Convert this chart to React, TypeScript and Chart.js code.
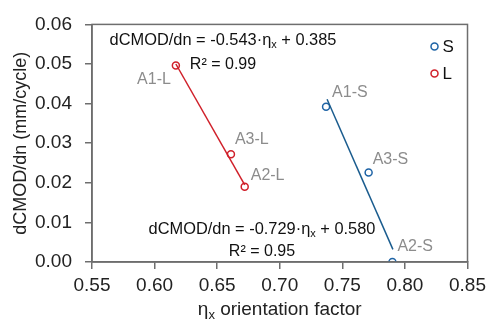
import React, { useEffect, useRef } from "react";
import { Chart, registerables } from "chart.js";

Chart.register(...registerables);

// ---- data ----
const seriesNames = ["S", "L"];
const sX = [0.737, 0.771, 0.790];
const sY = [0.0392, 0.0226, 0.0];
const sLabels = ["A1-S", "A3-S", "A2-S"];
const lX = [0.617, 0.661, 0.672];
const lY = [0.0496, 0.0272, 0.019];
const lLabels = ["A1-L", "A3-L", "A2-L"];
// fitted trend lines (end points)
const sTrendX = [0.7378, 0.7904];
const sTrendY = [0.0411, 0.0032];
const lTrendX = [0.617, 0.672];
const lTrendY = [0.05, 0.0195];
// equations
const lEq = ["dCMOD/dn = -0.543·η", "x", " + 0.385"];
const lR2 = "0.99";
const sEq = ["dCMOD/dn = -0.729·η", "x", " + 0.580"];
const sR2 = "0.95";
const xTicks = [0.55, 0.6, 0.65, 0.7, 0.75, 0.8, 0.85];
const yTicks = [0, 0.01, 0.02, 0.03, 0.04, 0.05, 0.06];

const RED = "#D0202A";
const BLUE = "#1F64A6";
const RED_LINE = "#D0202A";
const BLUE_LINE = "#1A5C8E";
const GRAY = "#8C8C8C";
const AXIS = "#6E6E6E";
const FONT = "'Liberation Sans', Arial, sans-serif";

function pts(xs: number[], ys: number[]) {
  return xs.map((x, i) => ({ x, y: ys[i] }));
}

function drawRich(ctx: CanvasRenderingContext2D, parts: { t: string; sub?: boolean }[], cx: number, cy: number, size: number) {
  const big = `${size}px ${FONT}`;
  const small = `${Math.round(size * 0.7)}px ${FONT}`;
  let w = 0;
  for (const p of parts) {
    ctx.font = p.sub ? small : big;
    w += ctx.measureText(p.t).width;
  }
  let x = cx - w / 2;
  ctx.textAlign = "left";
  ctx.textBaseline = "middle";
  for (const p of parts) {
    ctx.font = p.sub ? small : big;
    ctx.fillText(p.t, x, p.sub ? cy + size * 0.3 : cy);
    x += ctx.measureText(p.t).width;
  }
}

const annotPlugin = {
  id: "annot",
  afterDraw(chart: any) {
    const ctx: CanvasRenderingContext2D = chart.ctx;
    const xs = chart.scales.x;
    const ys = chart.scales.y;
    const ca = chart.chartArea;
    ctx.save();
    // point labels
    ctx.fillStyle = GRAY;
    ctx.font = `16px ${FONT}`;
    ctx.textBaseline = "middle";
    const offL = [[-5, 14, "right"], [4, -15, "left"], [6, -11, "left"]];
    const offS = [[6, -14, "left"], [4, -13, "left"], [5, -15, "left"]];
    lLabels.forEach((t, i) => {
      ctx.textAlign = offL[i][2] as CanvasTextAlign;
      ctx.fillText(t, xs.getPixelForValue(lX[i]) + (offL[i][0] as number), ys.getPixelForValue(lY[i]) + (offL[i][1] as number));
    });
    sLabels.forEach((t, i) => {
      ctx.textAlign = offS[i][2] as CanvasTextAlign;
      ctx.fillText(t, xs.getPixelForValue(sX[i]) + (offS[i][0] as number), ys.getPixelForValue(sY[i]) + (offS[i][1] as number));
    });
    // equations
    ctx.fillStyle = "#111";
    drawRich(ctx, [{ t: lEq[0] }, { t: lEq[1], sub: true }, { t: lEq[2] }], ca.left + 131, ca.top + 16, 16.4);
    drawRich(ctx, [{ t: "R² = " + lR2 }], ca.left + 131, ca.top + 40, 16);
    drawRich(ctx, [{ t: sEq[0] }, { t: sEq[1], sub: true }, { t: sEq[2] }], ca.left + 170, ca.top + 205, 16.4);
    drawRich(ctx, [{ t: "R² = " + sR2 }], ca.left + 170, ca.top + 227, 16);
    // legend
    const lx = ca.right - 33;
    [BLUE, RED].forEach((c, i) => {
      const y = ca.top + 22 + i * 27;
      ctx.beginPath();
      ctx.arc(lx, y, 3.5, 0, Math.PI * 2);
      ctx.strokeStyle = c;
      ctx.lineWidth = 1.5;
      ctx.stroke();
      ctx.fillStyle = "#111";
      ctx.font = `17px ${FONT}`;
      ctx.textAlign = "left";
      ctx.textBaseline = "middle";
      ctx.fillText(seriesNames[i], lx + 8, y + 1);
    });
    // axis titles
    ctx.fillStyle = "#222";
    drawRich(ctx, [{ t: "η" }, { t: "x", sub: true }, { t: " orientation factor" }], (ca.left + ca.right) / 2, 310, 19);
    ctx.save();
    ctx.translate(21, (ca.top + ca.bottom) / 2);
    ctx.rotate(-Math.PI / 2);
    drawRich(ctx, [{ t: "dCMOD/dn (mm/cycle)" }], 0, 0, 18);
    ctx.restore();
    // frame
    ctx.strokeStyle = AXIS;
    ctx.lineWidth = 1.5;
    ctx.strokeRect(ca.left, ca.top, ca.right - ca.left, ca.bottom - ca.top);
    ctx.restore();
  },
};

export default function App() {
  const ref = useRef<HTMLCanvasElement>(null);
  useEffect(() => {
    const chart = new Chart(ref.current!, {
      type: "scatter",
      data: {
        datasets: [
          { label: "S fit", data: pts(sTrendX, sTrendY), showLine: true, borderColor: BLUE_LINE, borderWidth: 1.5, pointRadius: 0 },
          { label: "L fit", data: pts(lTrendX, lTrendY), showLine: true, borderColor: RED_LINE, borderWidth: 1.5, pointRadius: 0 },
          { label: seriesNames[0], data: pts(sX, sY), pointRadius: 3.5, pointBorderWidth: 1.5, pointBorderColor: BLUE, pointBackgroundColor: "rgba(255,255,255,0)" },
          { label: seriesNames[1], data: pts(lX, lY), pointRadius: 3.5, pointBorderWidth: 1.5, pointBorderColor: RED, pointBackgroundColor: "rgba(255,255,255,0)" },
        ],
      },
      options: {
        responsive: false,
        animation: false,
        layout: { padding: { top: 21, right: 20, left: 0, bottom: 0 } },
        plugins: { legend: { display: false }, tooltip: { enabled: false } },
        scales: {
          x: {
            type: "linear",
            min: 0.55,
            max: 0.85,
            afterBuildTicks: (s: any) => { s.ticks = xTicks.map((v) => ({ value: v })); },
            afterFit: (s: any) => { s.height = 61; },
            grid: { drawOnChartArea: false, tickLength: 7, color: AXIS, lineWidth: 1.5 },
            border: { color: AXIS, width: 1.5 },
            ticks: { color: "#222", font: { family: FONT, size: 19 }, padding: 5, maxRotation: 0, callback: (v: any) => Number(v).toFixed(2) },
          },
          y: {
            type: "linear",
            min: 0,
            max: 0.06,
            afterBuildTicks: (s: any) => { s.ticks = yTicks.map((v) => ({ value: v })); },
            afterFit: (s: any) => { s.width = 92; },
            grid: { drawOnChartArea: false, tickLength: 7, color: AXIS, lineWidth: 1.5 },
            border: { color: AXIS, width: 1.5 },
            ticks: { color: "#222", font: { family: FONT, size: 19 }, padding: 13, callback: (v: any) => Number(v).toFixed(2) },
          },
        },
      },
      plugins: [annotPlugin],
    });
    return () => chart.destroy();
  }, []);
  return (
    <div style={{ position: "fixed", left: 0, top: 0, width: 491, height: 323, background: "#fff" }}>
      <canvas ref={ref} width={491} height={323} />
    </div>
  );
}
